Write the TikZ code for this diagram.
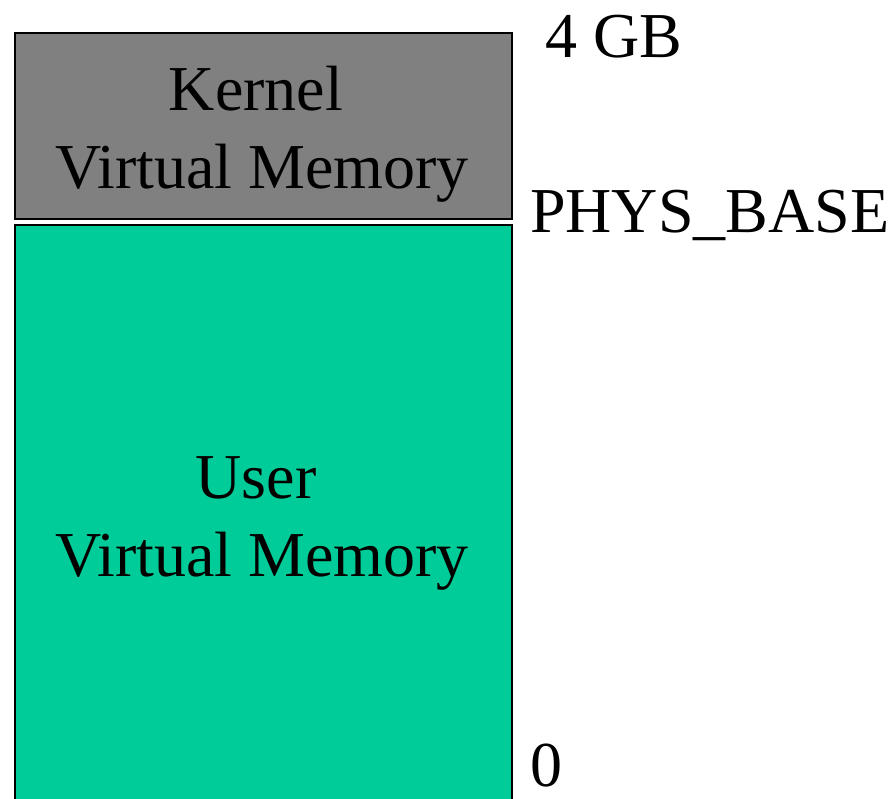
\documentclass[tikz,border=0pt]{standalone}
\usepackage{fontspec}
\setmainfont{Liberation Serif}
\definecolor{kernelgray}{RGB}{128,128,128}
\definecolor{usergreen}{RGB}{0,204,153}
\begin{document}
\begin{tikzpicture}[x=1pt,y=-1pt,
  region/.style={draw=black, line width=1.5pt, inner sep=0pt, anchor=north west},
  lbl/.style={inner sep=0pt, font=\fontsize{64}{77}\selectfont}]
  \useasboundingbox (0,0) rectangle (894,798);
  % memory regions
  \node[region, fill=kernelgray, minimum width=497pt, minimum height=186pt] (kernel) at (14,32) {};
  \node[region, fill=usergreen, minimum width=497pt, minimum height=600pt] (user) at (14,224) {};
  % region names
  \node[lbl, anchor=base] (kname1) at (256,110) {Kernel};
  \node[lbl, anchor=base] (kname2) at (262,188) {Virtual Memory};
  \node[lbl, anchor=base] (uname1) at (256,498) {User};
  \node[lbl, anchor=base] (uname2) at (262,576) {Virtual Memory};
  % address marks
  \node[lbl, anchor=base west] (top) at (545,57) {4 GB};
  \node[lbl, anchor=base west] (physbase) at (530,232) {PHYS\_BASE};
  \node[lbl, anchor=base west] (zero) at (530,786) {0};
\end{tikzpicture}
\end{document}
